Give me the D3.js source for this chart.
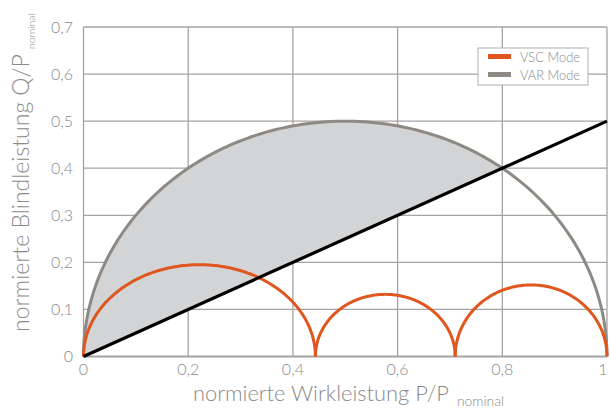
<!DOCTYPE html>
<html>
<head>
<meta charset="utf-8">
<script src="https://cdn.jsdelivr.net/npm/d3@7"></script>
<style>
  html, body { margin: 0; padding: 0; background: #fff; }
  svg { display: block; }
  text { font-family: "Lato", "Open Sans", sans-serif; font-weight: 300; fill: #8a8a8a; }
</style>
</head>
<body>
<svg id="chart" width="610" height="409"></svg>
<script>
// Axis ticks and their German labels
const xTicks = [0, 0.2, 0.4, 0.6, 0.8, 1];
const xTickLabels = ["0", "0,2", "0,4", "0,6", "0,8", "1"];
const yTicks = [0, 0.1, 0.2, 0.3, 0.4, 0.5, 0.6, 0.7];
const yTickLabels = ["0", "0,1", "0,2", "0,3", "0,4", "0,5", "0,6", "0,7"];

// VAR mode capability: one half-circle over P from start to end, reaching peak Q
const varStart = [0];
const varEnd = [1];
const varPeak = [0.5];

// VSC mode capability: three arcs (start P, end P, peak Q)
const vscStart = [0, 0.443, 0.710];
const vscEnd = [0.443, 0.710, 1];
const vscPeak = [0.195, 0.132, 0.152];

// Power-factor limit line Q = 0.5 * P
const limitP = [0, 1];
const limitQ = [0, 0.5];

const legendNames = ["VSC Mode", "VAR Mode"];
const legendColors = ["#e0561f", "#8f8984"];

const svg = d3.select("#chart");
const x = d3.scaleLinear().domain([0, 1]).range([83.5, 607]);
const y = d3.scaleLinear().domain([0, 0.7]).range([356.5, 27]);

// Sample a semi-ellipse between two P values with a given peak Q
function arcPoints(p0, p1, h) {
  const c = (p0 + p1) / 2, r = (p1 - p0) / 2;
  return d3.range(0, 181).map(i => {
    const t = Math.PI - i * Math.PI / 180;
    return [c + r * Math.cos(t), h * Math.sin(t)];
  });
}
const line = d3.line().x(d => x(d[0])).y(d => y(d[1]));

// Grid
const grid = svg.append("g");
grid.selectAll("line.h").data(yTicks).join("line")
  .attr("x1", x(0)).attr("x2", x(1))
  .attr("y1", d => y(d)).attr("y2", d => y(d))
  .attr("stroke", "#a3a3a3").attr("stroke-width", d => d === 0 ? 2 : 1.3);
grid.selectAll("line.v").data(xTicks).join("line")
  .attr("y1", y(0)).attr("y2", y(0.7))
  .attr("x1", d => x(d)).attr("x2", d => x(d))
  .attr("stroke", "#a3a3a3").attr("stroke-width", 1.3);

// Shaded region between the limit line and the VAR half-circle
const clip = svg.append("clipPath").attr("id", "aboveLimit");
clip.append("path").attr("d", line([[limitP[0], limitQ[0]], [limitP[1], limitQ[1]], [1, 0.7], [0, 0.7]]));

const varPts = arcPoints(varStart[0], varEnd[0], varPeak[0]);
svg.append("path")
  .attr("d", line(varPts) + "Z")
  .attr("fill", "#d3d4d5")
  .attr("clip-path", "url(#aboveLimit)");

// VAR half-circle
svg.append("path")
  .attr("d", line(varPts))
  .attr("fill", "none").attr("stroke", legendColors[1]).attr("stroke-width", 3);

// VSC arcs
svg.selectAll("path.vsc").data(vscStart.map((s, i) => arcPoints(s, vscEnd[i], vscPeak[i])))
  .join("path").attr("class", "vsc")
  .attr("d", line)
  .attr("fill", "none").attr("stroke", legendColors[0]).attr("stroke-width", 3);

// Limit line
svg.append("path")
  .attr("d", line(limitP.map((p, i) => [p, limitQ[i]])))
  .attr("stroke", "#000").attr("stroke-width", 3.2).attr("fill", "none");

// Tick labels (the last one is pulled in so it stays inside the frame)
svg.selectAll("text.xt").data(xTicks).join("text")
  .attr("x", d => Math.min(x(d), 603)).attr("y", 375)
  .attr("text-anchor", "middle").attr("font-size", 16)
  .text((d, i) => xTickLabels[i]);
svg.selectAll("text.yt").data(yTicks).join("text")
  .attr("x", 73).attr("y", d => y(d) + 5.5)
  .attr("text-anchor", "end").attr("font-size", 16)
  .text((d, i) => yTickLabels[i]);

// Axis titles with "nominal" subscripts
svg.append("text").attr("x", 193).attr("y", 401).attr("font-size", 21)
  .attr("textLength", 256).attr("lengthAdjust", "spacingAndGlyphs")
  .text("normierte Wirkleistung P/P");
svg.append("text").attr("x", 457).attr("y", 406).attr("font-size", 13)
  .attr("textLength", 47).attr("lengthAdjust", "spacingAndGlyphs")
  .text("nominal");

svg.append("text").attr("transform", "translate(29,332) rotate(-90)").attr("font-size", 23)
  .text("normierte Blindleistung Q/P");
svg.append("text").attr("transform", "translate(35,49) rotate(-90)").attr("font-size", 10.5)
  .text("nominal");

// Legend
const lg = svg.append("g");
lg.append("rect").attr("x", 478).attr("y", 48).attr("width", 110).attr("height", 37)
  .attr("fill", "#fff").attr("stroke", "#b0b0b0").attr("stroke-width", 1);
lg.selectAll("rect.sw").data(legendNames).join("rect")
  .attr("x", 488).attr("y", (d, i) => 54 + i * 18).attr("width", 23).attr("height", 5)
  .attr("fill", (d, i) => legendColors[i]);
lg.selectAll("text.lt").data(legendNames).join("text")
  .attr("x", 520).attr("y", (d, i) => 61.5 + i * 18).attr("font-size", 14)
  .attr("textLength", 60).attr("lengthAdjust", "spacingAndGlyphs")
  .attr("fill", "#8a8a8a").text(d => d);
</script>
</body>
</html>
